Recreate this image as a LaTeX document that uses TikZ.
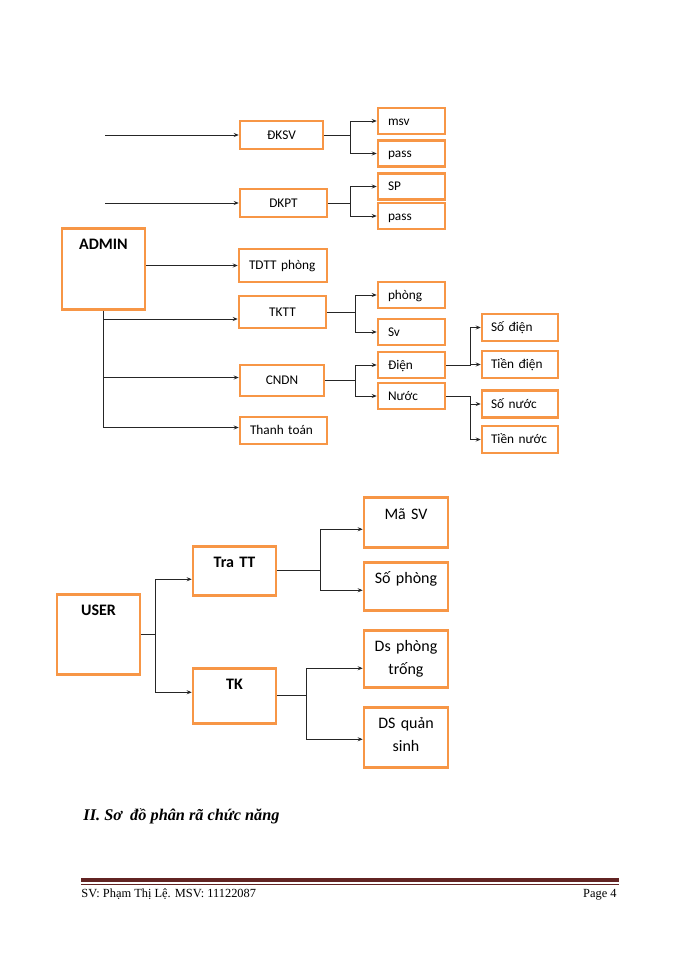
\documentclass[tikz,border=0pt]{standalone}
\usepackage{fontspec}
\setmainfont{Carlito}
\newfontfamily\pagefont{Liberation Serif}
\usetikzlibrary{arrows.meta}
\definecolor{boxorange}{HTML}{F79646}
\definecolor{rulered}{HTML}{622423}

\begin{document}
\begin{tikzpicture}[x=1pt,y=-1pt,>={Stealth[length=5pt,width=4pt]},draw=black!85,line width=0.9pt]
      \useasboundingbox (0,0) rectangle (700,960);
      \tikzstyle{box}=[draw=boxorange,line width=2.5pt,rectangle,inner sep=0pt,
          font=\fontsize{13.3}{16}\selectfont,text height=8.6pt,text depth=0pt]
      \tikzstyle{func}=[box,minimum height=28pt]
      \tikzstyle{leaf}=[box,minimum height=26pt,inner xsep=10pt,text width=47pt,align=left]
      \tikzstyle{subleaf}=[box,minimum height=27pt,inner xsep=9pt,text width=58pt,align=left]
      \tikzstyle{big}=[box,anchor=north,font=\fontsize{16}{23}\selectfont,
          text width=84pt,align=center,text height=21pt]
      \tikzstyle{head}=[big,text width=83pt,font=\fontsize{16}{23}\selectfont\bfseries]

      % ADMIN and the functions below it
      \node[head,text depth=60pt] (admin) at (103.5,227) {ADMIN};
      \coordinate (in-dksv) at (105,135);
      \coordinate (in-dkpt) at (105,203);
      \node[func,minimum width=83pt] (dksv) at (281.5,135) {ĐKSV};
      \node[func,minimum width=87pt] (dkpt) at (283.5,203) {DKPT};
      \node[func,text width=68pt,inner xsep=10pt,align=left,minimum height=33pt] (tdtt) at (283,265.5) {TDTT phòng};
      \node[func,minimum width=87pt,minimum height=32pt] (tktt) at (282.5,312) {TKTT};
      \node[func,minimum width=84pt,minimum height=31pt] (cndn) at (282,380.5) {CNDN};
      \node[func,text width=67pt,inner xsep=10pt,align=left,minimum height=27pt] (ttoan) at (283.5,430.5) {Thanh toán};

      % Draw the leaves of the admin tree
      \foreach \name/\y/\txt in {msv/121/msv, passa/153.5/pass, sp/186.5/SP, passb/216/pass,
                                 phong/295/phòng, sv/332/Sv, dien/365/Điện, nuoc/396/Nước}
          \node[leaf] (\name) at (411.5,\y) {\txt};
      \foreach \name/\y/\txt in {sodien/327.5/Số điện, tiendien/364.5/Tiền điện,
                                 sonuoc/404/Số nước, tiennuoc/439.5/Tiền nước}
          \node[subleaf] (\name) at (520,\y) {\txt};

      % Connect the admin tree
      \foreach \n in {dksv,dkpt}
          \draw[->] (in-\n) -- (\n);
      \draw[->] (admin.east |- tdtt) -- (tdtt);
      \path (tktt.west) ++(0,7) coordinate (t-tktt);
      \path (cndn.west) ++(0,-3) coordinate (t-cndn);
      \path (ttoan.west) ++(0,-3) coordinate (t-ttoan);
      \draw (admin.south) -- (admin.south |- t-ttoan);
      \foreach \n in {tktt,cndn,ttoan}
          \draw[->] (admin.south |- t-\n) -- (t-\n);
      \foreach \src/\dx/\dst in {dksv/26/msv, dksv/26/passa, dkpt/22/sp, dkpt/22/passb,
                                 tktt/28/phong, tktt/28/sv, cndn/30/dien, cndn/30/nuoc,
                                 dien/24/sodien, dien/24/tiendien, nuoc/24/sonuoc, nuoc/24/tiennuoc}
          \draw[->] (\src.east) -- ++(\dx,0) |- (\dst.west);

      % USER and its functions
      \node[head,text depth=59pt] (user) at (98.5,593) {USER};
      \node[head,text depth=28pt] (tratt) at (234.5,545) {Tra TT};
      \node[head,text depth=34pt] (tk) at (234.5,667) {TK};
      \node[big,text height=22pt,text depth=28pt] (masv) at (406,496) {Mã SV};
      \node[big,text depth=27pt] (sophong) at (406,561) {Số phòng};
      \node[big,text depth=36pt] (dsphong) at (406,629) {Ds phòng\\trống};
      \node[big,text depth=39pt] (dsqs) at (406,706) {DS quản\\sinh};

      % Connect the user tree
      \draw (user.east) -- ++(14,0) coordinate (u-br);
      \path (tratt.west) ++(0,8.5) coordinate (t-tratt);
      \path (tk.west) ++(0,-3.5) coordinate (t-tk);
      \foreach \n in {tratt,tk}
          \draw[->] (u-br) |- (t-\n);
      \foreach \src/\dx/\dst/\s in {tratt/43/masv/7, tratt/43/sophong/4, tk/29/dsphong/9.5, tk/29/dsqs/2} {
          \path (\dst.west) ++(0,\s) coordinate (t-\dst);
          \draw[->] (\src.east) -- ++(\dx,0) |- (t-\dst);
      }

      % Heading and page footer
      \node[anchor=base west,inner sep=0pt,font=\pagefont\fontsize{16.3}{18}\selectfont\bfseries\itshape] (title) at (83,820) {II. Sơ~ đồ phân rã chức năng};
      \draw[rulered,line width=3.5pt] (81,880) -- (619,880);
      \draw[rulered,line width=0.6pt] (81,883.8) -- (619,883.8);
      \node[anchor=base west,inner sep=0pt,font=\pagefont\fontsize{12.4}{14}\selectfont] (student) at (81,897) {SV: Phạm Thị Lệ. MSV: 11122087};
      \node[anchor=base east,inner sep=0pt,font=\pagefont\fontsize{12.4}{14}\selectfont] (pageno) at (617,897) {Page 4};
  \end{tikzpicture}
\end{document}
